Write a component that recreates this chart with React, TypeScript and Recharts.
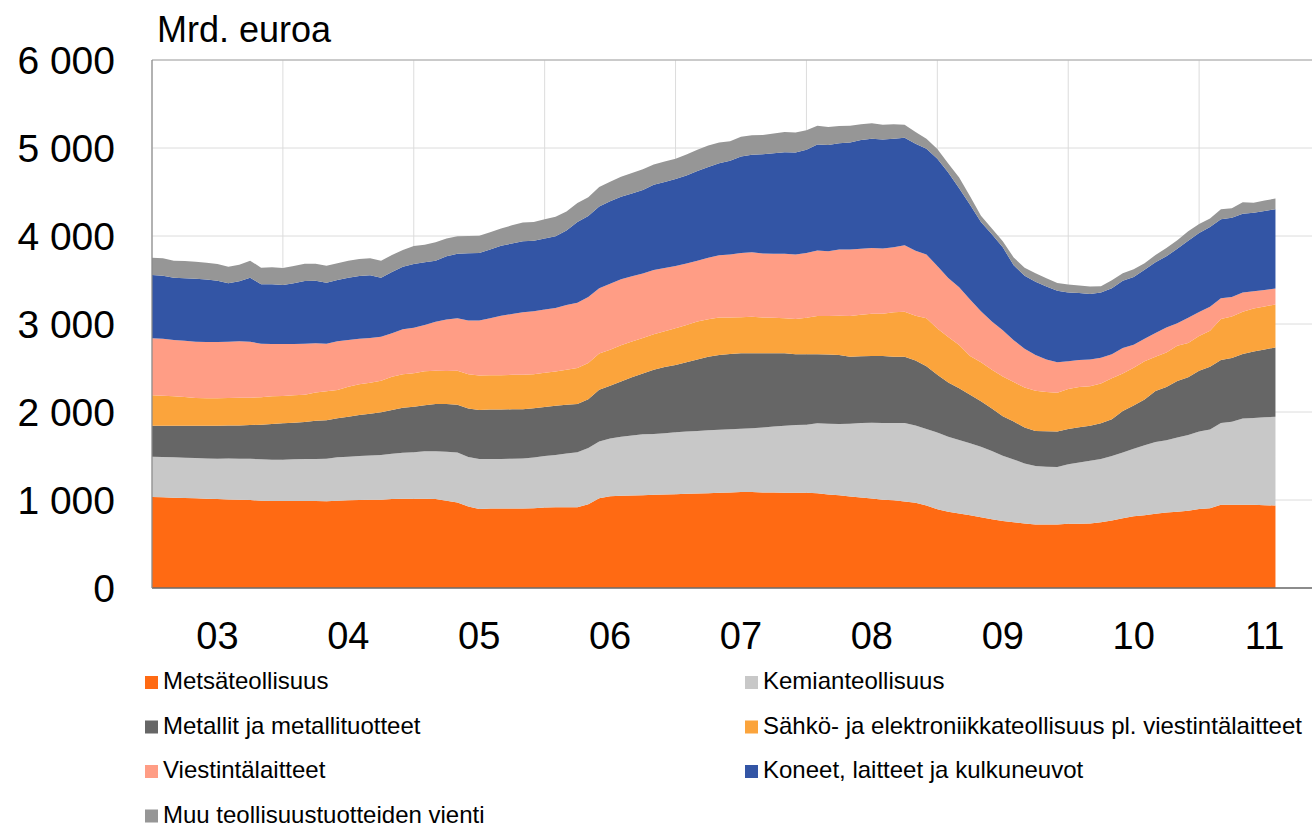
import React from 'react';
import { AreaChart, Area, XAxis, YAxis, CartesianGrid, ReferenceLine } from 'recharts';

// Monthly data, Jan 2003 .. Aug 2011 (Mrd. euroa, 12-month rolling sums)
const metsa = [1034,1030,1026,1022,1019,1015,1011,1007,1004,1000, 992,988,988,988,988,988,985,992,996,1000, 1004,1004,1011,1015,1015,1015,1011,992,973,926, 898,902,902,902,902,906,914,918,918,918, 953,1019,1043,1047,1051,1055,1059,1062,1066,1070, 1074,1078,1082,1086,1090,1090,1086,1086,1082,1082, 1082,1078,1062,1055,1039,1027,1016,1004,996,984, 969,937,894,867,848,828,805,781,762,746, 734,723,723,723,730,730,734,746,766,793, 816,828,844,859,867,879,898,906,945,945, 945,945,941,937];
const kemian = [458,459,459,459,458,458,459,466,466,470, 470,470,470,474,478,478,485,493,496,500, 503,507,515,523,527,538,542,555,566,562, 567,563,563,567,571,578,586,594,609,625, 637,645,656,672,683,691,691,696,703,707, 711,715,715,719,719,726,738,750,762,770, 773,793,805,808,828,848,863,871,879,891, 879,871,872,852,835,816,800,777,742,715, 680,664,656,652,676,696,711,719,734,746, 766,793,816,821,844,859,879,895,930,945, 981,988,1000,1008];
const metallit = [353,356,360,364,368,372,375,375,378,382, 394,405,413,416,420,435,435,443,455,466, 474,485,497,511,518,523,538,543,543,551, 558,562,562,562,558,559,558,558,555,547, 554,590,598,629,660,691,730,754,766,789, 812,836,851,855,859,852,844,832,824,804, 801,785,785,785,762,758,758,762,754,754, 738,711,656,617,586,551,516,481,449,430, 410,398,402,402,402,402,399,406,418,473, 492,520,578,605,640,656,692,714,715,723, 734,754,770,789];
const sahko = [344,341,333,325,314,310,310,311,315,311, 311,315,311,311,311,322,330,322,341,348, 352,360,378,379,379,386,379,375,387,391, 391,391,391,391,391,387,387,391,398,410, 414,410,410,410,407,403,403,406,418,422, 430,426,426,414,410,414,406,402,398,402, 414,434,438,446,461,472,480,480,504,511, 508,547,527,515,493,442,445,441,449,449, 453,457,445,442,454,457,449,453,465,425, 430,437,391,391,403,391,394,407,468,473, 480,489,488,488];
const viestin = [648,647,640,641,640,640,640,640,640,636, 609,595,591,584,579,557,541,553,530,519, 508,500,493,511,519,527,556,586,597,609, 625,648,676,691,711,714,719,722,735,742, 750,742,750,750,742,734,730,719,707,699, 692,699,707,715,730,734,727,727,731,731, 738,746,738,753,757,750,746,742,738,754, 738,723,711,672,656,640,578,547,528,476, 442,406,371,347,316,305,304,293,273,289, 261,254,269,285,254,285,274,273,235,222, 219,195,188,180];
const koneet = [720,716,708,708,716,712,697,663,682,727, 675,678,670,689,713,712,694,697,708,712, 712,670,697,712,724,712,694,718,731,765, 769,781,796,801,808,801,809,813,847,918, 918,930,937,937,941,949,969,976,988,1000, 1019,1031,1047,1066,1094,1106,1129,1144,1156,1160, 1172,1203,1207,1207,1215,1235,1242,1238,1234,1223, 1215,1203,1219,1199,1125,1078,1016,992,941,852, 828,832,829,813,781,761,743,742,750,766, 770,785,805,808,847,875,898,906,898,899, 895,894,898,902];
const muu = [197,197,194,197,193,190,190,189,189,194, 189,193,193,197,197,194,193,189,194,194, 193,194,193,190,204,200,208,203,199,196, 196,196,196,207,211,215,218,222,215,215, 215,222,223,227,231,235,230,234,231,239, 242,242,234,223,227,222,218,223,230,227, 223,215,203,196,192,179,176,168,164,148, 136,113,109,102,121,98,70,66,68,88, 92,98,93,86,90,86,86,71,90,86, 86,74,82,94,98,109,102,98,113,109, 129,114,117,122];

const yearLabels = ['03', '04', '05', '06', '07', '08', '09', '10', '11'];
const yearMidTicks = [6, 18, 30, 42, 54, 66, 78, 90, 102];
const yearBounds = [0, 12, 24, 36, 48, 60, 72, 84, 96, 108];
const yTicks = [0, 1000, 2000, 3000, 4000, 5000, 6000];

const seriesKeys = ['metsa', 'kemian', 'metallit', 'sahko', 'viestin', 'koneet', 'muu'];
const seriesNames = [
  'Metsäteollisuus',
  'Kemianteollisuus',
  'Metallit ja metallituotteet',
  'Sähkö- ja elektroniikkateollisuus pl. viestintälaitteet',
  'Viestintälaitteet',
  'Koneet, laitteet ja kulkuneuvot',
  'Muu teollisuustuotteiden vienti',
];
const seriesColors = ['#FF6A13', '#C8C8C8', '#666666', '#FBA43C', '#FF9D85', '#3355A5', '#969696'];

const data = metsa.map((v, i) => ({
  m: i,
  metsa: v,
  kemian: kemian[i],
  metallit: metallit[i],
  sahko: sahko[i],
  viestin: viestin[i],
  koneet: koneet[i],
  muu: muu[i],
}));

const FONT = "'Liberation Sans', Arial, Helvetica, sans-serif";

const fmtY = (v: number) => (v === 0 ? '0' : `${Math.floor(v / 1000)} ${String(v % 1000).padStart(3, '0')}`);

// legend order: left column, right column, row by row
const legendOrder = [0, 1, 2, 3, 4, 5, 6];

export default function App() {
  return (
    <div
      style={{
        position: 'fixed',
        left: 0,
        top: 0,
        width: 1312,
        height: 827,
        overflow: 'hidden',
        background: '#ffffff',
        fontFamily: FONT,
      }}
    >
      <AreaChart
        width={1345}
        height={827}
        data={data}
        margin={{ top: 60, right: 15, bottom: 179, left: 0 }}
        style={{ fontFamily: FONT }}
      >
        <CartesianGrid
          stroke="#dcdcdc"
          strokeWidth={1}
          horizontal={true}
          vertical={true}
          verticalCoordinatesGenerator={(props: any) => {
            const xAxis = props && props.xAxis;
            const offset = props && props.offset;
            if (xAxis && typeof xAxis.scale === 'function') {
              return yearBounds.map((b) => xAxis.scale(b));
            }
            return yearBounds.map((b) => offset.left + (offset.width * b) / 108);
          }}
        />
        <XAxis
          dataKey="m"
          type="number"
          domain={[0, 108]}
          ticks={yearMidTicks}
          interval={0}
          tickFormatter={(v: number) => yearLabels[Math.round((v - 6) / 12)]}
          tickLine={false}
          tickSize={0}
          tickMargin={34}
          height={60}
          axisLine={{ stroke: '#6b6b6b', strokeWidth: 1.5 }}
          tick={{ fontSize: 38, fill: '#000000', fontFamily: FONT }}
        />
        <YAxis
          type="number"
          domain={[0, 6000]}
          ticks={yTicks}
          interval={0}
          width={152}
          tickFormatter={fmtY}
          tickLine={false}
          tickSize={0}
          tickMargin={37}
          axisLine={{ stroke: '#8a8a8a', strokeWidth: 1.2 }}
          tick={{ fontSize: 39, fill: '#000000', fontFamily: FONT }}
        />
        <ReferenceLine y={6000} stroke="#a8a8a8" strokeWidth={1.2} />
        {seriesKeys.map((k, i) => (
          <Area
            key={k}
            type="linear"
            dataKey={k}
            name={seriesNames[i]}
            stackId="1"
            fill={seriesColors[i]}
            fillOpacity={1}
            stroke="none"
            isAnimationActive={false}
            dot={false}
            activeDot={false}
          />
        ))}
      </AreaChart>
      <svg
        width={1312}
        height={827}
        style={{ position: 'absolute', left: 0, top: 0, pointerEvents: 'none' }}
      >
        <text x={157} y={42} fontSize={36} fill="#000" fontFamily={FONT}>
          Mrd. euroa
        </text>
        {legendOrder.map((idx, j) => {
          const col = j % 2;
          const row = Math.floor(j / 2);
          const baseY = 689 + row * 44.5;
          const sx = col === 0 ? 145 : 745;
          const tx = col === 0 ? 163 : 763;
          return (
            <g key={idx}>
              <rect x={sx} y={baseY - 13} width={13} height={13} fill={seriesColors[idx]} />
              <text x={tx} y={baseY} fontSize={24} fill="#000" fontFamily={FONT}>
                {seriesNames[idx]}
              </text>
            </g>
          );
        })}
      </svg>
    </div>
  );
}
